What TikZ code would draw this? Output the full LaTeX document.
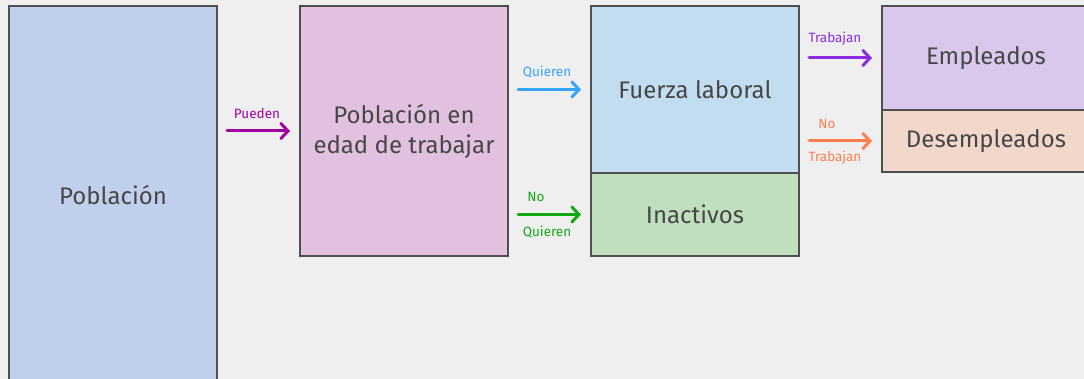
\documentclass[tikz,border=0pt]{standalone}
\usepackage{fontspec}
\setmainfont{Fira Sans}
\usetikzlibrary{arrows.meta,calc}
\definecolor{bg}{HTML}{EFEFEF}
\definecolor{edge}{HTML}{4F4F4F}
\definecolor{txt}{HTML}{474747}
\definecolor{cPob}{HTML}{C0CFEB}
\definecolor{cEdad}{HTML}{E1C0E0}
\definecolor{cFza}{HTML}{C3DDF0}
\definecolor{cIna}{HTML}{C0DFBE}
\definecolor{cEmp}{HTML}{D9C8EB}
\definecolor{cDes}{HTML}{F2D7CB}
\definecolor{aPue}{HTML}{A300A3}
\definecolor{aQui}{HTML}{35A4F7}
\definecolor{aNoQ}{HTML}{12A812}
\definecolor{aTra}{HTML}{8A2BE2}
\definecolor{aNoT}{HTML}{FF7F50}
\tikzset{
  box/.style={draw=edge, line width=2pt, anchor=north west, inner sep=0pt,
    text=txt, font=\fontsize{24}{30}\selectfont, align=center},
  flow/.style={line width=3pt, line cap=round,
    -{Straight Barb[length=7pt,width=15pt,line cap=round]},
    shorten <=9pt, shorten >=9pt},
  lab/.style={font=\fontsize{13.5}{15}\selectfont, inner sep=0pt}
}
\begin{document}
\begin{tikzpicture}[x=1pt,y=-1pt]
\fill[bg] (0,0) rectangle (1084,379);
\useasboundingbox (0,0) rectangle (1084,379);
\node[box, fill=cPob, minimum width=208pt, minimum height=378pt] (pob) at (8,5) {Población};
\node[box, fill=cEdad, minimum width=208pt, minimum height=250pt] (edad) at (299,5) {Población en\\edad de trabajar};
\node[box, fill=cFza, minimum width=208pt, minimum height=167pt] (fza) at (590,5) {Fuerza laboral};
\node[box, fill=cIna, minimum width=208pt, minimum height=83pt] (ina) at (590,172) {Inactivos};
\node[box, fill=cEmp, minimum width=208pt, minimum height=104pt] (emp) at (881,5) {Empleados};
\node[box, fill=cDes, minimum width=208pt, minimum height=62pt] (des) at (881,109) {Desempleados};
\draw[flow, aPue] (pob.east |- edad.west) -- (edad.west);
\draw[flow, aQui] (edad.east |- fza.west) -- (fza.west);
\draw[flow, aNoQ] (edad.east |- ina.west) -- (ina.west);
\draw[flow, aTra] (fza.east |- emp.west) -- (emp.west);
\draw[flow, aNoT] (fza.east |- des.west) -- (des.west);
\node[lab, text=aPue] (lPue) at (257,114) {Pueden};
\node[lab, text=aQui] (lQui) at (547,72) {Quieren};
\node[lab, text=aNoQ] (lNoQ1) at (536,197) {No};
\node[lab, text=aNoQ] (lNoQ2) at (547,232) {Quieren};
\node[lab, text=aTra] (lTra) at (835,39) {Trabajan};
\node[lab, text=aNoT] (lNoT1) at (827,124) {No};
\node[lab, text=aNoT] (lNoT2) at (835,158) {Trabajan};
\end{tikzpicture}
\end{document}
